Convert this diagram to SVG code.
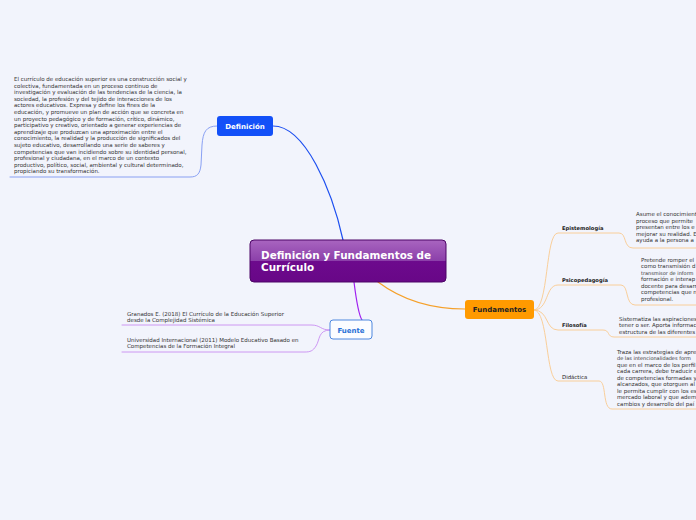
<svg xmlns="http://www.w3.org/2000/svg" width="696" height="520" viewBox="0 0 696 520">
<defs>
<linearGradient id="gc" x1="0" y1="0" x2="0" y2="1">
<stop offset="0" stop-color="#a965c0"/>
<stop offset="0.5" stop-color="#8b3fa9"/>
<stop offset="0.5" stop-color="#6d0a8d"/>
<stop offset="1" stop-color="#680787"/>
</linearGradient>
</defs>
<style>
.t{font-family:"DejaVu Sans",Verdana,sans-serif;font-size:5.5px;fill:#333}
.s{font-size:5px}
.lb{font-family:"DejaVu Sans",Verdana,sans-serif;font-size:5.2px;fill:#222;font-weight:bold}
.lr{font-family:"DejaVu Sans",Verdana,sans-serif;font-size:5.4px;fill:#222}
.nb{font-family:"DejaVu Sans",Verdana,sans-serif;font-size:7px;font-weight:bold;text-anchor:middle}
.c{fill:none;stroke-linecap:round}
.fo{stroke:#f9c98f;stroke-width:0.9}
</style>
<rect width="696" height="520" fill="#f2f4fc"/>
<g id="connectors">
<path class="c" d="M343,240 C 332,190 305,126 273,126" stroke="#1d4ff0" stroke-width="1.2"/>
<path class="c" d="M217,126 C 206,126 203,132 202,145 L 201,165 C 200,174 197,177 190,177 L 10,177" stroke="#7d96f2" stroke-width="0.9"/>
<path class="c" d="M354,282 C 356,298 358,314 362,320" stroke="#a020f0" stroke-width="1.2"/>
<path class="c" d="M330,330 C 320,330 321,325 311,325 L 122,325" stroke="#c88cf2" stroke-width="0.9"/>
<path class="c" d="M330,330 C 318,330 320,340 316,346 C 313,351 310,352 305,352 L 122,352" stroke="#c88cf2" stroke-width="0.9"/>
<path class="c" d="M378,282 C 402,300 430,309 465,309" stroke="#f5a02a" stroke-width="1.2"/>
<path class="c fo" d="M534,310 C 549,310 545,233 558,233 L 619,233 C 627,233 623,248 633,248 L 696,248"/>
<path class="c fo" d="M534,310 C 549,310 545,285 558,285 L 621,285 C 629,285 625,305 635,305 L 696,305"/>
<path class="c fo" d="M534,310 C 549,310 545,330 558,330 L 603,330 C 610,330 607,337 614,337 L 696,337"/>
<path class="c fo" d="M534,310 C 549,310 545,381 558,381 L 599,381 C 607,381 602,409 612,409 L 696,409"/>
</g>
<g id="central">
<rect x="250" y="240" width="196" height="42" rx="4" fill="url(#gc)" stroke="#4d0466" stroke-width="1"/>
<text x="261" y="259" font-family="'DejaVu Sans',Verdana,sans-serif" font-size="10.4" font-weight="bold" fill="#fff">Definición y Fundamentos de</text>
<text x="261" y="271" font-family="'DejaVu Sans',Verdana,sans-serif" font-size="10.4" font-weight="bold" fill="#fff">Currículo</text>
</g>
<g id="definicion">
<rect x="217" y="116" width="56" height="20" rx="3" fill="#1350f8"/>
<text class="nb" x="245" y="129" fill="#fff">Definición</text>
</g>
<g id="definicion-texto">
<text class="t" x="14" y="81">El currículo de educación superior es una construcción social y</text>
<text class="t" x="14" y="87.6">colectiva, fundamentada en un proceso continuo de</text>
<text class="t" x="14" y="94.2">investigación y evaluación de las tendencias de la ciencia, la</text>
<text class="t" x="14" y="100.8">sociedad, la profesión y del tejido de interacciones de los</text>
<text class="t" x="14" y="107.4">actores educativos. Expresa y define los fines de la</text>
<text class="t" x="14" y="114">educación, y promueve un plan de acción que se concreta en</text>
<text class="t" x="14" y="120.6">un proyecto pedagógico y de formación, crítico, dinámico,</text>
<text class="t" x="14" y="127.2">participativo y creativo, orientado a generar experiencias de</text>
<text class="t" x="14" y="133.8">aprendizaje que produzcan una aproximación entre el</text>
<text class="t" x="14" y="140.4">conocimiento, la realidad y la producción de significados del</text>
<text class="t" x="14" y="147">sujeto educativo, desarrollando una serie de saberes y</text>
<text class="t" x="14" y="153.6">competencias que van incidiendo sobre su identidad personal,</text>
<text class="t" x="14" y="160.2">profesional y ciudadana, en el marco de un contexto</text>
<text class="t" x="14" y="166.8">productivo, político, social, ambiental y cultural determinado,</text>
<text class="t" x="14" y="173.4">propiciando su transformación.</text>
</g>
<g id="fuente">
<rect x="330" y="320" width="42" height="19" rx="3" fill="#fbfcff" stroke="#3b7bdb" stroke-width="0.9"/>
<text class="nb" x="351" y="332.5" fill="#2a70d6">Fuente</text>
</g>
<g id="fuente-granados">
<text class="t" x="127" y="315.5">Granados E. (2018) El Currículo de la Educación Superior</text>
<text class="t" x="127" y="322">desde la Complejidad Sistémica</text>
</g>
<g id="fuente-uni">
<text class="t" x="127" y="341.5">Universidad Internacional (2011) Modelo Educativo Basado en</text>
<text class="t" x="127" y="348">Competencias de la Formación Integral</text>
</g>
<g id="fundamentos">
<rect x="465" y="300" width="69" height="19" rx="3" fill="#ff9a00"/>
<text class="nb" x="499.5" y="312" fill="#222">Fundamentos</text>
</g>
<g id="epistemologia">
<text class="lb" x="562" y="230">Epistemología</text>
<text class="t" x="636" y="216">Asume el conocimient</text>
<text class="t" x="636" y="222.6"> proceso que permite</text>
<text class="t" x="636" y="229.2">presentan entre los e</text>
<text class="t" x="636" y="235.8">mejorar su realidad. E</text>
<text class="t" x="636" y="242.4">ayuda a la persona a</text>
</g>
<g id="psicopedagogia">
<text class="lb" x="562" y="282">Psicopedagogía</text>
<text class="t" x="641" y="261.5">Pretende romper el</text>
<text class="t" x="641" y="268">como transmisión d</text>
<text class="t s" x="641" y="274.5">transmisor de inform</text>
<text class="t" x="641" y="281">formación e interap</text>
<text class="t" x="641" y="287.5">docente para desarr</text>
<text class="t" x="641" y="294">competencias que n</text>
<text class="t" x="641" y="300.5">profesional.</text>
</g>
<g id="filosofia">
<text class="lb" x="562" y="327">Filosofía</text>
<text class="t" x="619" y="320.5">Sistematiza las aspiraciones</text>
<text class="t" x="619" y="327">tener o ser. Aporta informac</text>
<text class="t" x="619" y="333.5">estructura de las diferentes</text>
</g>
<g id="didactica">
<text class="lr" x="562" y="379">Didáctica</text>
<text class="t" x="617" y="353.5">Traza las estrategias de apre</text>
<text class="t s" x="617" y="360">de las intencionalidades form</text>
<text class="t" x="617" y="366.5">que en el marco de los perfil</text>
<text class="t" x="617" y="373">cada carrera, debe traducir e</text>
<text class="t" x="617" y="379.5">de competencias formadas y</text>
<text class="t" x="617" y="386">alcanzados, que otorguen al</text>
<text class="t" x="617" y="392.5">le permita cumplir con los es</text>
<text class="t" x="617" y="399">mercado laboral y que adem</text>
<text class="t" x="617" y="405.5">cambios y desarrollo del paí</text>
</g>
</svg>
